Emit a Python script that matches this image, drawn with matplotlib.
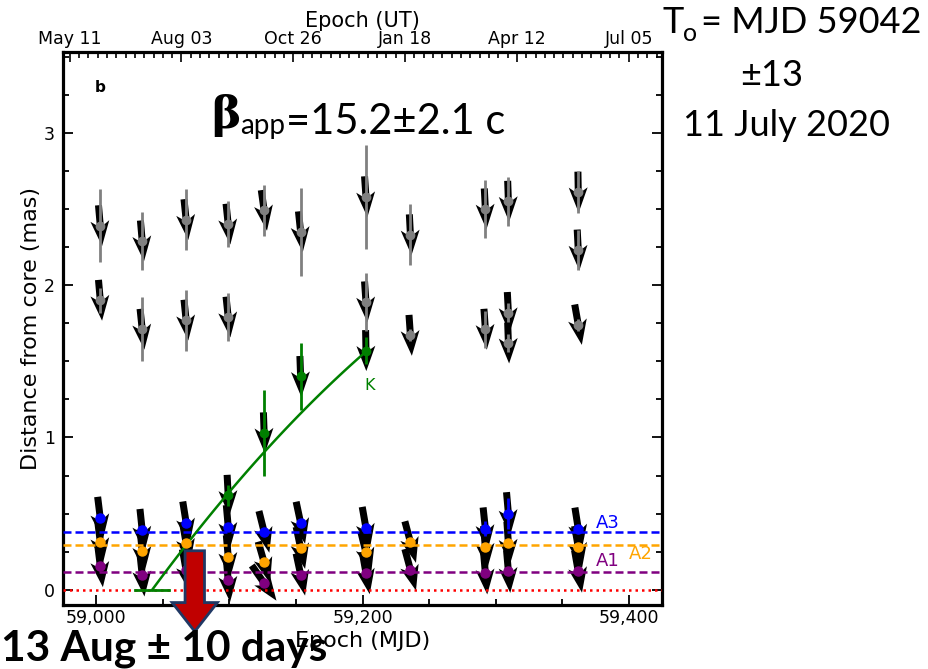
import numpy as np
import matplotlib
matplotlib.use("Agg")
import matplotlib.pyplot as plt
from matplotlib.patches import FancyArrow
from matplotlib.ticker import MultipleLocator, FixedLocator, FuncFormatter

# ---------------- data ----------------
# outer jet components (gray)
gray_x = [59003.0, 59003.0, 59034.5, 59034.5, 59067.5, 59067.5, 59099.1, 59099.1,
          59126.1, 59153.5, 59202.6, 59202.6, 59236.0, 59236.0, 59292.3, 59292.3,
          59309.6, 59309.6, 59309.6, 59362.1, 59362.1, 59362.1]
gray_y = [2.39, 1.90, 2.29, 1.71, 2.43, 1.77, 2.40, 1.79,
          2.49, 2.35, 2.58, 1.89, 2.33, 1.67, 2.50, 1.71,
          2.55, 1.82, 1.62, 2.61, 2.23, 1.74]
gray_err = [0.24, 0.08, 0.19, 0.21, 0.20, 0.20, 0.15, 0.16,
            0.17, 0.29, 0.34, 0.19, 0.20, 0.04, 0.19, 0.12,
            0.16, 0.06, 0.06, 0.14, 0.13, 0.04]
gray_tilt = [5, 5, 5, 6, 6, 6, 6, 6,
             8, 6, 4, 4, 3, 4, 3, 4,
             2, 3, 2, 1, 3, 10]

# moving component K (green)
k_x = [59099.1, 59126.1, 59153.5, 59202.6]
k_y = [0.62, 1.03, 1.40, 1.57]
k_err = [0.07, 0.28, 0.22, 0.09]
k_tilt = [3, 2, 2, 1]

# stationary components near the core
a3_x = [59003.0, 59034.5, 59067.5, 59099.1, 59126.1, 59153.5, 59202.6, 59292.3, 59309.6, 59362.1]
a3_y = [0.47, 0.39, 0.44, 0.415, 0.38, 0.44, 0.405, 0.40, 0.50, 0.40]
a3_err = [0.02, 0.02, 0.02, 0.02, 0.02, 0.02, 0.02, 0.05, 0.10, 0.02]
a3_tilt = [7, 6, 9, 5, 14, 12, 10, 6, 5, 9]

a2_x = [59003.0, 59034.5, 59067.5, 59099.1, 59126.1, 59153.5, 59202.6, 59236.0, 59292.3, 59309.6, 59362.1]
a2_y = [0.313, 0.256, 0.306, 0.218, 0.18, 0.275, 0.245, 0.313, 0.278, 0.306, 0.28]
a2_tilt = [7, 6, 10, 5, 16, 12, 14, 15, 5, 4, 10]

a1_x = [59003.0, 59034.5, 59067.5, 59099.1, 59126.1, 59153.5, 59202.6, 59236.0, 59292.3, 59309.6, 59362.1]
a1_y = [0.157, 0.096, 0.127, 0.061, 0.044, 0.10, 0.11, 0.131, 0.11, 0.12, 0.12]
a1_tilt = [7, 6, 10, 5, 35, 12, 10, 15, 5, 5, 10]

# stationary component levels
a3_level, a2_level, a1_level = 0.382, 0.295, 0.118

# ejection fit (K): distance = a*(t-t0) + b*(t-t0)^2
fit_t0 = 59042
fit_t0_err = 13
fit_a = 0.01184
fit_b = -1.31e-5
fit_end = 59202.6

# core-crossing date marker (13 Aug 2020)
cross_mjd = 59074

# top axis (UT) ticks
ut_tick_mjd = [58980, 59064, 59148, 59232, 59316, 59400]
ut_tick_labels = ["May 11", "Aug 03", "Oct 26", "Jan 18", "Apr 12", "Jul 05"]

# ---------------- figure ----------------
W, H = 929, 669
fig = plt.figure(figsize=(W / 100, H / 100), dpi=100)
ax = fig.add_axes([63 / W, 1 - 605 / H, 599 / W, 553 / H])
ax.set_xlim(58975, 59425)
ax.set_ylim(-0.1, 3.53)

for s in ax.spines.values():
    s.set_linewidth(2.3)

ax.xaxis.set_major_locator(MultipleLocator(200))
ax.xaxis.set_minor_locator(MultipleLocator(50))
ax.xaxis.set_major_formatter(FuncFormatter(lambda v, p: f"{int(round(v)):,}"))
ax.yaxis.set_major_locator(MultipleLocator(1))
ax.yaxis.set_minor_locator(MultipleLocator(0.25))
ax.tick_params(axis="both", which="both", direction="in", top=False, right=True,
               labelsize=12.5, width=1.3)
ax.tick_params(axis="both", which="major", length=7.5)
ax.tick_params(axis="both", which="minor", length=4)
ax.tick_params(axis="x", which="major", pad=3)
ax.tick_params(axis="y", which="major", pad=6)

ax.set_xlabel("Epoch (MJD)", fontsize=16, labelpad=3)
ax.set_ylabel("Distance from core (mas)", fontsize=16, labelpad=2)

# top UT axis
ax2 = ax.twiny()
ax2.set_xlim(ax.get_xlim())
ax2.xaxis.set_major_locator(FixedLocator(ut_tick_mjd))
ax2.set_xticklabels(ut_tick_labels)
ax2.xaxis.set_minor_locator(FixedLocator(np.arange(ut_tick_mjd[0], 59426, 7)))
ax2.tick_params(axis="x", which="both", direction="in", top=True, bottom=False,
                labelsize=12.5, width=1.2, pad=3)
ax2.tick_params(axis="x", which="major", length=7.5)
ax2.tick_params(axis="x", which="minor", length=4)
for s in ax2.spines.values():
    s.set_visible(False)
ax2.set_xlabel("Epoch (UT)", fontsize=15, labelpad=2)

# horizontal reference lines
ax.axhline(a3_level, color="blue", ls=(0, (3.2, 1.6)), lw=1.8, zorder=4)
ax.axhline(a2_level, color="orange", ls=(0, (3.2, 1.6)), lw=1.8, zorder=4)
ax.axhline(a1_level, color="purple", ls=(0, (3.2, 1.6)), lw=1.8, zorder=4)
ax.axhline(0, color="red", ls=(0, (1, 1.6)), lw=1.8, zorder=4)


def draw_arrows(xs, ys, tilts, length):
    t = np.radians(np.asarray(tilts, dtype=float))
    u = length * np.sin(t)
    v = -length * np.cos(t)
    ax.quiver(xs, ys, u, v, angles="uv", scale_units="dots", scale=1,
              units="dots", width=7, headwidth=2.7, headlength=3.6,
              headaxislength=3.0, pivot="middle", color="black", zorder=3)


draw_arrows(gray_x, gray_y, gray_tilt, 41)
draw_arrows(k_x, k_y, k_tilt, 41)
draw_arrows(a3_x, a3_y, a3_tilt, 43)
draw_arrows(a2_x, a2_y, a2_tilt, 43)
draw_arrows(a1_x, a1_y, a1_tilt, 43)

ax.errorbar(gray_x, gray_y, yerr=gray_err, fmt="o", color="gray", ms=6,
            elinewidth=2, capsize=0, zorder=5)
ax.errorbar(k_x, k_y, yerr=k_err, fmt="o", color="green", ms=6,
            elinewidth=2, capsize=0, zorder=5)
ax.errorbar(a3_x, a3_y, yerr=a3_err, fmt="o", color="blue", ms=6.5,
            elinewidth=2, capsize=0, zorder=6)
ax.plot(a2_x, a2_y, "o", color="orange", ms=6.5, zorder=6)
ax.plot(a1_x, a1_y, "o", color="purple", ms=6.5, zorder=6)

# fit line
tt = np.linspace(fit_t0, fit_end, 100)
ax.plot(tt, fit_a * (tt - fit_t0) + fit_b * (tt - fit_t0) ** 2, color="green", lw=1.8, zorder=5)
ax.plot([fit_t0 - fit_t0_err, fit_t0 + fit_t0_err], [0, 0], color="green", lw=2, zorder=5)

# labels inside axes
ax.text(59205, 1.34, "K", color="green", fontsize=11.5, ha="center", va="center")
ax.text(59384, 0.435, "A3", color="blue", fontsize=13, ha="center", va="center")
ax.text(59409, 0.235, "A2", color="orange", fontsize=13, ha="center", va="center")
ax.text(59384, 0.19, "A1", color="purple", fontsize=13, ha="center", va="center")
ax.text(0.062, 0.935, "b", transform=ax.transAxes, fontsize=11, fontweight="bold",
        ha="center", va="center")

# red block arrow marking the crossing date
arr = FancyArrow(cross_mjd, 0.256, 0, -0.53, width=14.6, head_width=34,
                 head_length=0.19, length_includes_head=True,
                 facecolor="#C00000", edgecolor="#203864", lw=2,
                 clip_on=False, zorder=20)
ax.add_patch(arr)

# ---------------- annotation texts ----------------
pf = "Lato"
tb = fig.text(211 / W, 1 - 128 / H, "β", fontsize=32, fontweight="bold",
              family="DejaVu Serif", va="baseline", ha="left")
tapp = ax.annotate("app", xy=(1, 1 - 134 / H), xycoords=(tb, "figure fraction"),
                   xytext=(0, 0), textcoords="offset points",
                   fontsize=20, family=pf, va="baseline", ha="left",
                   annotation_clip=False)
ax.annotate("=15.2±2.1 c", xy=(1, 1 - 134 / H), xycoords=(tapp, "figure fraction"),
            xytext=(0.5, 0), textcoords="offset points",
            fontsize=30, family=pf, va="baseline", ha="left", annotation_clip=False)

tT = fig.text(663 / W, 1 - 33 / H, "T", fontsize=26, family=pf, va="baseline", ha="left")
to = ax.annotate("o", xy=(1, 1 - 41 / H), xycoords=(tT, "figure fraction"),
                 xytext=(-1, 0), textcoords="offset points",
                 fontsize=18, family=pf, va="baseline", ha="left", annotation_clip=False)
ax.annotate("= MJD 59042", xy=(1, 1 - 33 / H), xycoords=(to, "figure fraction"),
            xytext=(3, 0), textcoords="offset points",
            fontsize=26, family=pf, va="baseline", ha="left", annotation_clip=False)
fig.text(740 / W, 1 - 86 / H, "±13", fontsize=26, family=pf, va="baseline", ha="left")
fig.text(683 / W, 1 - 136 / H, "11 July 2020", fontsize=26, family=pf, va="baseline", ha="left")

fig.text(1 / W, 1 - 660 / H, "13 Aug ± 10 days", fontsize=30.5, fontweight="bold",
         family=pf, va="baseline", ha="left", zorder=30)

fig.savefig("out.png", dpi=100)
